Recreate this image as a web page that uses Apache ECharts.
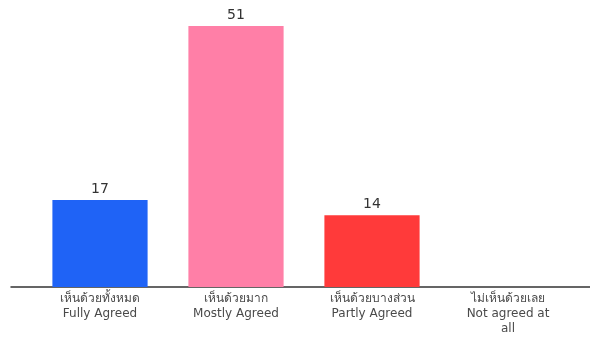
<!DOCTYPE html>
<html><head><meta charset="utf-8">
<script src="https://cdn.jsdelivr.net/npm/echarts@6/dist/echarts.min.js"></script>
<style>html,body{margin:0;padding:0;background:#fff}#c{width:590px;height:337px}</style>
</head><body><div id="c"></div>
<script>
const categories = ['เห็นด้วยทั้งหมด\nFully Agreed', 'เห็นด้วยมาก\nMostly Agreed', 'เห็นด้วยบางส่วน\nPartly Agreed', 'ไม่เห็นด้วยเลย\nNot agreed at\nall'];
const values = [17, 51, 14, 0];
const colors = ['#1f63f6', '#ff7fa7', '#ff3a3a', '#cccccc'];

const chart = echarts.init(document.getElementById('c'));
chart.setOption({
  animation: false,
  grid: [
    {left: 32, right: 14, top: 26, bottom: 50},
    {left: 11, right: 0, top: 26, bottom: 50}
  ],
  xAxis: [
    {
      type: 'category', data: categories, gridIndex: 0,
      axisLine: {show: false}, axisTick: {show: false},
      axisLabel: {
        color: '#4a4a4a', fontSize: 12, lineHeight: 15, margin: 4,
        fontFamily: '"DejaVu Sans", sans-serif', interval: 0
      }
    },
    {
      type: 'category', data: [''], gridIndex: 1,
      axisLine: {show: true, lineStyle: {color: '#333', width: 1.5}},
      axisTick: {show: false}, axisLabel: {show: false}
    }
  ],
  yAxis: [
    {type: 'value', min: 0, max: 51, gridIndex: 0, show: false, splitLine: {show: false}},
    {type: 'value', min: 0, max: 1, gridIndex: 1, show: false, splitLine: {show: false}}
  ],
  series: [{
    type: 'bar', xAxisIndex: 0, yAxisIndex: 0,
    barWidth: '70%',
    data: values.map((v, i) => ({value: v, itemStyle: {color: colors[i]}, label: {show: v > 0}})),
    label: {
      show: true, position: 'top', distance: 4, color: '#333', fontSize: 14,
      fontFamily: '"DejaVu Sans", sans-serif'
    }
  }]
});
</script></body></html>
